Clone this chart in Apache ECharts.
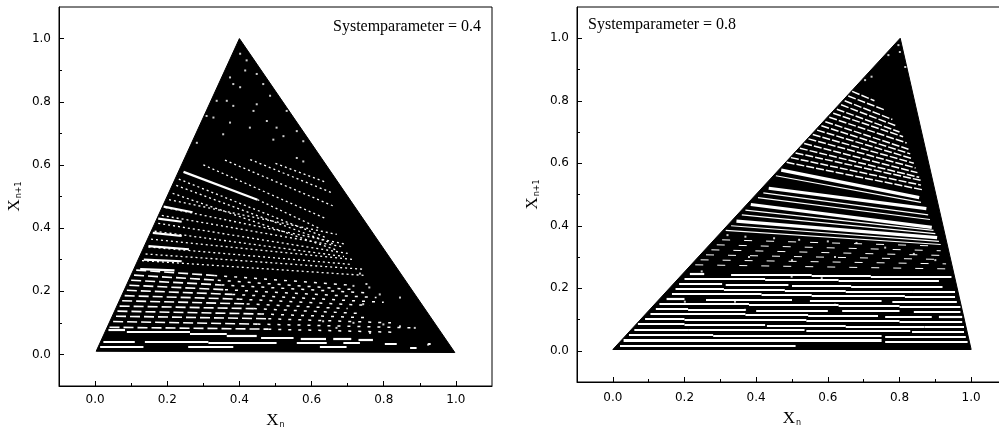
<!DOCTYPE html>
<html>
<head>
<meta charset="utf-8">
<script src="https://cdn.jsdelivr.net/npm/echarts@6/dist/echarts.min.js"></script>
<style>
html, body { margin: 0; padding: 0; background: #fff; }
#chart { width: 999px; height: 432px; }
</style>
</head>
<body>
<div id="chart"></div>
<script>
// axis ticks
var tickValues = [0, 0.2, 0.4, 0.6, 0.8, 1.0];
var tickLabels = ['0.0', '0.2', '0.4', '0.6', '0.8', '1.0'];
var minorValues = [0.1, 0.3, 0.5, 0.7, 0.9];
var panelLabels = ['Systemparameter = 0.4', 'Systemparameter = 0.8'];

// left panel, parameter 0.4 : outline of the filled region
var leftTriX = [0.003, 0.40, 0.997];
var leftTriY = [0.010, 1.000, 0.006];
// white gaps [x1, y1, x2, y2]
var leftBottomGaps = [
  [0.014, 0.025, 0.134, 0.025], [0.258, 0.025, 0.383, 0.025], [0.623, 0.024, 0.697, 0.024], [0.873, 0.022, 0.891, 0.022],
  [0.023, 0.041, 0.110, 0.041], [0.138, 0.040, 0.314, 0.040], [0.314, 0.038, 0.503, 0.038], [0.559, 0.037, 0.642, 0.037],
  [0.688, 0.036, 0.734, 0.036], [0.803, 0.035, 0.836, 0.035], [0.923, 0.033, 0.930, 0.033]
];
var leftBrightGaps = [
  [0.037, 0.079, 0.083, 0.079], [0.088, 0.071, 0.263, 0.071], [0.263, 0.064, 0.365, 0.064], [0.365, 0.058, 0.448, 0.058],
  [0.460, 0.054, 0.550, 0.054], [0.570, 0.051, 0.640, 0.051], [0.660, 0.049, 0.710, 0.049], [0.730, 0.047, 0.770, 0.047],
  [0.245, 0.578, 0.450, 0.490],
  [0.190, 0.468, 0.270, 0.450], [0.175, 0.430, 0.240, 0.420], [0.160, 0.385, 0.240, 0.375],
  [0.148, 0.343, 0.260, 0.333], [0.135, 0.300, 0.240, 0.295], [0.125, 0.270, 0.220, 0.266]
];
var leftRowsNear = [
  [0.040, 0.086, 0.480, 0.080], [0.050, 0.104, 0.450, 0.096], [0.058, 0.121, 0.480, 0.113], [0.062, 0.137, 0.460, 0.128],
  [0.068, 0.153, 0.440, 0.145], [0.075, 0.170, 0.420, 0.160], [0.082, 0.186, 0.400, 0.175], [0.088, 0.203, 0.380, 0.190],
  [0.095, 0.219, 0.360, 0.205], [0.100, 0.235, 0.350, 0.220], [0.108, 0.251, 0.340, 0.235], [0.114, 0.267, 0.330, 0.250]
];
var leftRowsFar = [
  [0.480, 0.080, 0.840, 0.070], [0.450, 0.096, 0.890, 0.084], [0.480, 0.113, 0.820, 0.100], [0.460, 0.128, 0.760, 0.116],
  [0.440, 0.145, 0.730, 0.130], [0.420, 0.160, 0.700, 0.145], [0.400, 0.175, 0.760, 0.155], [0.380, 0.190, 0.800, 0.165],
  [0.360, 0.205, 0.780, 0.180], [0.350, 0.220, 0.750, 0.195], [0.340, 0.235, 0.720, 0.205], [0.330, 0.250, 0.700, 0.220]
];
var leftSlopeLines = [
  [0.450, 0.490, 0.620, 0.400], [0.300, 0.600, 0.640, 0.430], [0.360, 0.615, 0.660, 0.470], [0.430, 0.617, 0.660, 0.510],
  [0.500, 0.605, 0.640, 0.545], [0.232, 0.555, 0.640, 0.370], [0.225, 0.535, 0.660, 0.350], [0.215, 0.510, 0.670, 0.330],
  [0.205, 0.490, 0.670, 0.380], [0.195, 0.465, 0.690, 0.350], [0.185, 0.440, 0.690, 0.340], [0.175, 0.415, 0.700, 0.320],
  [0.165, 0.390, 0.690, 0.310], [0.155, 0.365, 0.720, 0.300], [0.148, 0.340, 0.710, 0.285], [0.140, 0.318, 0.740, 0.270],
  [0.130, 0.297, 0.750, 0.250]
];
var leftDots = [
  [0.402, 0.952], [0.420, 0.931], [0.416, 0.899], [0.374, 0.877], [0.383, 0.856], [0.402, 0.846], [0.448, 0.888],
  [0.466, 0.856], [0.485, 0.819], [0.365, 0.803], [0.337, 0.803], [0.328, 0.750], [0.374, 0.734], [0.383, 0.787],
  [0.439, 0.771], [0.448, 0.792], [0.429, 0.718], [0.476, 0.739], [0.503, 0.718], [0.522, 0.691], [0.531, 0.771],
  [0.559, 0.707], [0.577, 0.675], [0.355, 0.697], [0.282, 0.670], [0.494, 0.680], [0.559, 0.622], [0.577, 0.611],
  [0.309, 0.755], [0.716, 0.217], [0.752, 0.223], [0.789, 0.190], [0.845, 0.180], [0.743, 0.159], [0.799, 0.095],
  [0.845, 0.089], [0.886, 0.084], [0.923, 0.031], [0.762, 0.068], [0.716, 0.100], [0.669, 0.084], [0.632, 0.105],
  [0.734, 0.256], [0.760, 0.212]
];

// right panel, parameter 0.8
var rightTriX = [0.000, 0.802, 1.000];
var rightTriY = [0.004, 1.000, 0.004];
var rightUpperLines = [
  [0.668, 0.830, 0.730, 0.800], [0.657, 0.815, 0.760, 0.770], [0.647, 0.800, 0.780, 0.740], [0.637, 0.787, 0.790, 0.720],
  [0.625, 0.773, 0.800, 0.700], [0.615, 0.760, 0.810, 0.685], [0.604, 0.747, 0.820, 0.665], [0.593, 0.733, 0.825, 0.645],
  [0.582, 0.720, 0.830, 0.630], [0.570, 0.706, 0.835, 0.615], [0.558, 0.692, 0.840, 0.600], [0.546, 0.678, 0.845, 0.585],
  [0.534, 0.663, 0.850, 0.570], [0.522, 0.648, 0.855, 0.555], [0.510, 0.633, 0.860, 0.545], [0.497, 0.618, 0.860, 0.530],
  [0.485, 0.603, 0.865, 0.515]
];
var rightBands = [
  [0.470, 0.578, 0.855, 0.490], [0.435, 0.520, 0.875, 0.455], [0.385, 0.468, 0.890, 0.395], [0.345, 0.415, 0.905, 0.362],
  [0.030, 0.034, 0.750, 0.034]
];
var rightBandLines = [
  [0.455, 0.560, 0.860, 0.475], [0.420, 0.505, 0.880, 0.435], [0.405, 0.490, 0.885, 0.420], [0.370, 0.450, 0.895, 0.385],
  [0.360, 0.435, 0.900, 0.375], [0.330, 0.400, 0.910, 0.350], [0.315, 0.385, 0.915, 0.340]
];
var rightMidRows = [
  [0.230, 0.275, 0.930, 0.262], [0.245, 0.291, 0.930, 0.278], [0.260, 0.307, 0.925, 0.292],
  [0.275, 0.323, 0.920, 0.305], [0.290, 0.339, 0.915, 0.320], [0.305, 0.355, 0.910, 0.335]
];
var rightStripes = [
  [0.020, 0.016, 0.510, 0.016],
  [0.760, 0.030, 0.990, 0.030],
  [0.045, 0.052, 0.280, 0.052], [0.280, 0.049, 0.750, 0.049], [0.760, 0.046, 0.985, 0.046],
  [0.060, 0.068, 0.210, 0.068], [0.210, 0.066, 0.535, 0.066], [0.540, 0.063, 0.830, 0.063], [0.835, 0.060, 0.980, 0.060],
  [0.070, 0.085, 0.200, 0.085], [0.200, 0.083, 0.425, 0.083], [0.430, 0.081, 0.650, 0.081], [0.650, 0.078, 0.870, 0.078], [0.870, 0.076, 0.980, 0.076],
  [0.090, 0.101, 0.200, 0.101], [0.200, 0.099, 0.540, 0.099], [0.540, 0.096, 0.800, 0.096], [0.800, 0.093, 0.975, 0.093],
  [0.105, 0.117, 0.370, 0.117], [0.370, 0.114, 0.545, 0.114], [0.545, 0.112, 0.740, 0.112], [0.760, 0.110, 0.890, 0.110], [0.910, 0.108, 0.975, 0.108],
  [0.120, 0.133, 0.210, 0.133], [0.210, 0.131, 0.370, 0.131], [0.400, 0.129, 0.600, 0.129], [0.640, 0.127, 0.800, 0.127], [0.840, 0.125, 0.970, 0.125],
  [0.130, 0.149, 0.380, 0.149], [0.380, 0.146, 0.630, 0.146], [0.630, 0.143, 0.800, 0.143], [0.800, 0.140, 0.970, 0.140],
  [0.150, 0.165, 0.200, 0.165], [0.260, 0.163, 0.500, 0.163], [0.550, 0.161, 0.750, 0.161], [0.780, 0.158, 0.960, 0.158],
  [0.165, 0.181, 0.415, 0.181], [0.415, 0.178, 0.555, 0.178], [0.555, 0.176, 0.815, 0.176], [0.815, 0.173, 0.955, 0.173],
  [0.175, 0.197, 0.310, 0.197], [0.310, 0.195, 0.480, 0.195], [0.480, 0.193, 0.650, 0.193], [0.650, 0.190, 0.835, 0.190], [0.835, 0.188, 0.955, 0.188],
  [0.185, 0.213, 0.305, 0.213], [0.315, 0.211, 0.490, 0.211], [0.500, 0.209, 0.665, 0.209], [0.665, 0.206, 0.920, 0.206],
  [0.200, 0.229, 0.425, 0.229], [0.425, 0.226, 0.630, 0.226], [0.630, 0.223, 0.910, 0.223],
  [0.215, 0.245, 0.255, 0.245], [0.330, 0.243, 0.555, 0.243], [0.555, 0.240, 0.720, 0.240], [0.720, 0.237, 0.945, 0.237]
];
var rightDots = [
  [0.797, 0.978], [0.801, 0.956], [0.769, 0.946], [0.816, 0.908], [0.722, 0.877], [0.704, 0.866],
  [0.320, 0.370], [0.370, 0.365], [0.450, 0.360], [0.520, 0.355], [0.600, 0.350], [0.680, 0.345], [0.760, 0.330],
  [0.840, 0.310], [0.900, 0.290], [0.380, 0.300], [0.500, 0.290], [0.620, 0.300], [0.248, 0.254], [0.499, 0.237],
  [0.583, 0.232], [0.201, 0.157], [0.341, 0.157], [0.620, 0.147], [0.369, 0.131]
];

var chart = echarts.init(document.getElementById('chart'));

function segData(list) {
  return list.map(function (s) { return { coords: [[s[0], s[1]], [s[2], s[3]]] }; });
}

function gapSeries(axis, list, width, dash) {
  return {
    type: 'lines', coordinateSystem: 'cartesian2d', xAxisIndex: axis, yAxisIndex: axis,
    polyline: false, silent: true, animation: false, z: 3,
    lineStyle: { color: '#fff', width: width, type: dash || 'solid', opacity: 1, curveness: 0 },
    data: segData(list)
  };
}

function dotSeries(axis, list) {
  return {
    type: 'scatter', xAxisIndex: axis, yAxisIndex: axis, silent: true, animation: false, z: 4,
    symbol: 'rect', symbolSize: 2, itemStyle: { color: '#fff' }, data: list
  };
}

function triangleSeries(axis, xs, ys) {
  var pts = xs.map(function (x, i) { return [x, ys[i]]; });
  return {
    type: 'custom', xAxisIndex: axis, yAxisIndex: axis, silent: true, animation: false, z: 2,
    data: pts,
    renderItem: function (params, api) {
      if (params.dataIndex !== 0) return null;
      return {
        type: 'polygon',
        shape: { points: pts.map(function (p) { return api.coord(p); }) },
        style: { fill: '#000', stroke: '#000', lineWidth: 1 }
      };
    }
  };
}

function labelFor(v) {
  for (var i = 0; i < tickValues.length; i++) {
    if (Math.abs(tickValues[i] - v) < 1e-9) return tickLabels[i];
  }
  return '';
}

var nameRich = {
  x: { fontFamily: 'Liberation Serif', fontSize: 17, color: '#000' },
  s: { fontFamily: 'DejaVu Sans', fontSize: 8, color: '#000', padding: [9, 0, 0, 1] }
};

function mainAxis(grid, dim) {
  return {
    type: 'value', gridIndex: grid, min: -0.1, max: 1.1,
    position: dim === 'x' ? 'bottom' : 'left',
    name: dim === 'x' ? '{x|X}{s|n}' : '{x|X}{s|n+1}',
    nameLocation: 'middle', nameGap: dim === 'x' ? (grid === 0 ? 26 : 28) : 36,
    nameTextStyle: { rich: nameRich },
    axisLine: { show: true, onZero: false, lineStyle: { color: '#000', width: 1 } },
    axisTick: { show: true, inside: true, length: 5, customValues: tickValues, lineStyle: { color: '#000' } },
    axisLabel: {
      customValues: tickValues, formatter: labelFor, color: '#000', fontFamily: 'DejaVu Sans', fontSize: 12,
      margin: dim === 'x' ? (grid === 0 ? 8 : 10) : 8
    },
    splitLine: { show: false }
  };
}

function minorAxis(grid, dim) {
  return {
    type: 'value', gridIndex: grid, min: -0.1, max: 1.1,
    position: dim === 'x' ? 'bottom' : 'left',
    axisLine: { show: false, onZero: false },
    axisTick: { show: true, inside: true, length: 3, customValues: minorValues, lineStyle: { color: '#000' } },
    axisLabel: { show: false },
    splitLine: { show: false }
  };
}

var option = {
  backgroundColor: '#fff',
  animation: false,
  grid: [
    { left: 59, top: 7, width: 433, height: 379, outerBoundsMode: 'none', show: true, borderColor: '#000', borderWidth: 1, backgroundColor: 'transparent' },
    { left: 577, top: 7, width: 430, height: 375, outerBoundsMode: 'none', show: true, borderColor: '#000', borderWidth: 1, backgroundColor: 'transparent' }
  ],
  xAxis: [mainAxis(0, 'x'), minorAxis(0, 'x'), mainAxis(1, 'x'), minorAxis(1, 'x')],
  yAxis: [mainAxis(0, 'y'), minorAxis(0, 'y'), mainAxis(1, 'y'), minorAxis(1, 'y')],
  graphic: [
    { type: 'text', left: 333, top: 19, style: { text: panelLabels[0], font: '16px "Liberation Serif"', fill: '#000' } },
    { type: 'text', left: 588, top: 17, style: { text: panelLabels[1], font: '16px "Liberation Serif"', fill: '#000' } }
  ],
  series: [
    triangleSeries(0, leftTriX, leftTriY),
    gapSeries(0, leftBottomGaps, 2),
    gapSeries(0, leftBrightGaps, 2.2),
    gapSeries(0, leftRowsNear, 1.6, [10, 4]),
    gapSeries(0, leftRowsFar, 1.5, [3, 7]),
    gapSeries(0, leftSlopeLines, 1.3, [2, 3]),
    dotSeries(0, leftDots),

    triangleSeries(2, rightTriX, rightTriY),
    gapSeries(2, rightUpperLines, 1.5, [8, 2]),
    gapSeries(2, rightBands, 3.2),
    gapSeries(2, rightBandLines, 1.2),
    gapSeries(2, rightMidRows, 1, [8, 14]),
    gapSeries(2, rightStripes, 2.2),
    dotSeries(2, rightDots)
  ]
};

chart.setOption(option);
</script>
</body>
</html>
